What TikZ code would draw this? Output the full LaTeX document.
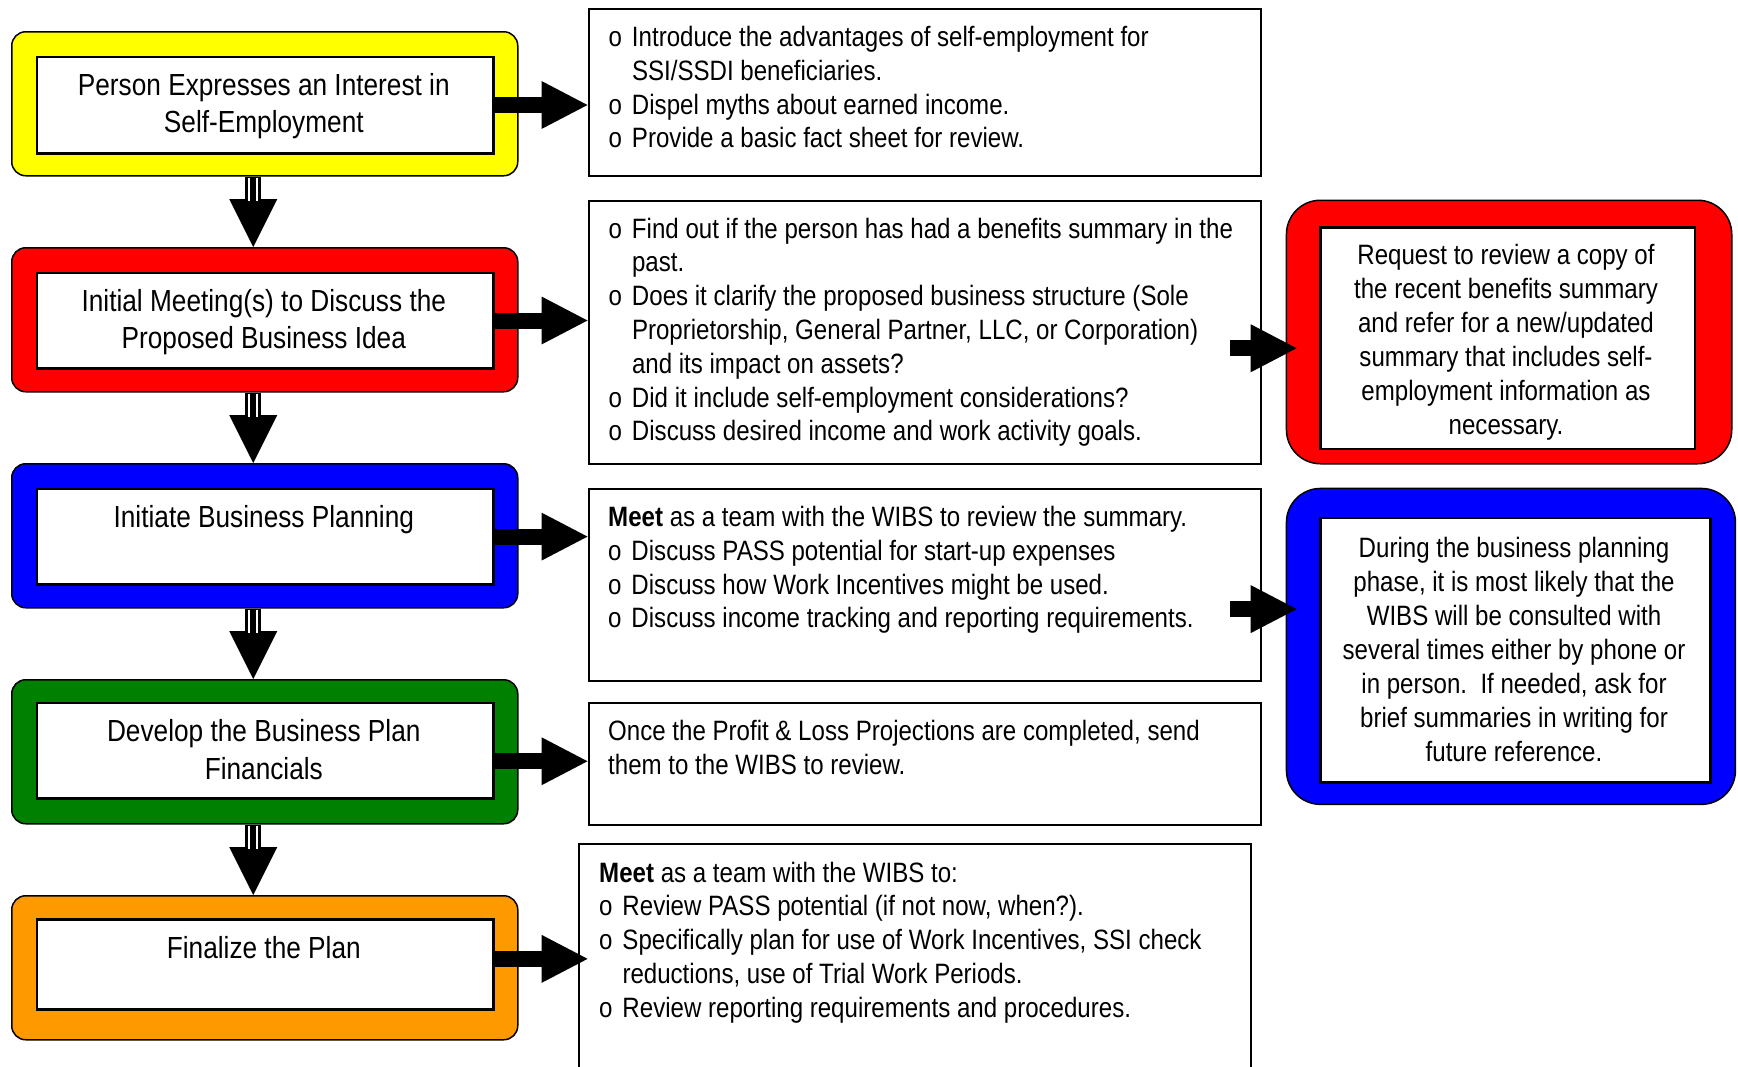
\documentclass[tikz,border=0pt]{standalone}
\usepackage{fontspec}
\setmainfont[FakeStretch=0.86]{Liberation Sans}
\usetikzlibrary{arrows.meta}
\definecolor{cyel}{HTML}{FFFF00}
\definecolor{cred}{HTML}{FF0000}
\definecolor{cblu}{HTML}{0000FF}
\definecolor{cgrn}{HTML}{008000}
\definecolor{corg}{HTML}{FF9900}
\newcommand\bul{\makebox[23.3pt][l]{o}}
\newcommand\ind{\hspace*{23.3pt}}
\tikzset{
 lout/.style={draw=black, line width=1.5pt, rounded corners=14pt, anchor=north west, minimum width=506pt, minimum height=144pt, inner sep=0pt},
 lin/.style={draw=black, fill=white, line width=2.5pt, anchor=north west, minimum width=456.5pt, inner sep=0pt},
 mbox/.style={draw=black, line width=2pt, anchor=north west, inner sep=0pt},
 rout/.style={draw=black, line width=1.5pt, rounded corners=34pt, anchor=north west, inner sep=0pt},
 rin/.style={draw=black, fill=white, line width=2.5pt, anchor=north west, inner sep=0pt},
 fat/.style={line width=16pt, -{Triangle[width=48pt,length=46pt,line width=0pt]}},
 downarr/.style={line width=16pt, -{Triangle[width=48pt,length=48pt,line width=0pt]}},
 stripe/.style={white, line width=2.4pt},
 ltxt/.style={inner sep=0pt, anchor=base, font=\fontsize{30.5}{37.6}\selectfont},
 mtxt/.style={inner sep=0pt, anchor=base west, font=\fontsize{28}{33.8}\selectfont},
 rtxt/.style={inner sep=0pt, anchor=base, font=\fontsize{28}{34}\selectfont},
}
\begin{document}
\begin{tikzpicture}[x=1pt,y=-1pt]
\useasboundingbox (0,0) rectangle (1738,1066);
% left column
\node[lout, fill=cyel] (O1) at (11,31) {};
\node[lout, fill=cred] (O2) at (11,247) {};
\node[lout, fill=cblu] (O3) at (11,463) {};
\node[lout, fill=cgrn] (O4) at (11,679) {};
\node[lout, fill=corg] (O5) at (11,895) {};
\node[lin, minimum height=96.5pt] (L1) at (35.5,55.5) {};
\node[lin, minimum height=95.5pt] (L2) at (35.5,271.5) {};
\node[lin, minimum height=95.3pt] (L3) at (35.5,487.7) {};
\node[lin, minimum height=95.4pt] (L4) at (35.5,701.6) {};
\node[lin, minimum height=90pt] (L5) at (35.5,918) {};
\node[ltxt] (T1) at (263.8,95) {\begin{tabular}[t]{@{}c@{}}Person Expresses an Interest in\\Self-Employment\end{tabular}};
\node[ltxt] (T2) at (263.8,311) {\begin{tabular}[t]{@{}c@{}}Initial Meeting(s) to Discuss the\\Proposed Business Idea\end{tabular}};
\node[ltxt] (T3) at (263.8,527) {Initiate Business Planning};
\node[ltxt] (T4) at (263.8,741.5) {\begin{tabular}[t]{@{}c@{}}Develop the Business Plan\\Financials\end{tabular}};
\node[ltxt] (T5) at (263.8,958) {Finalize the Plan};
% down arrows
\foreach \a/\b in {O1/O2,O2/O3,O3/O4,O4/O5}{
 \draw[downarr] ([xshift=-11.5pt]\a.south) -- ([xshift=-11.5pt]\b.north);
 \draw[stripe] ([shift={(-16,1)}]\a.south) -- ([shift={(-16,24)}]\a.south);
 \draw[stripe] ([shift={(-8,1)}]\a.south) -- ([shift={(-8,24)}]\a.south);
}
% middle column
\node[mbox, minimum width=672.5pt, minimum height=167.2pt] (M1) at (587.5,7.8) {};
\node[mbox, minimum width=672.5pt, minimum height=263.5pt] (M2) at (587.5,199.5) {};
\node[mbox, minimum width=672.5pt, minimum height=191.8pt] (M3) at (587.5,487.7) {};
\node[mbox, minimum width=672.5pt, minimum height=121.9pt] (M4) at (587.5,701.6) {};
\coordinate (M5) at (578.6,843.5);
\draw[line width=2pt] (578.6,1070) -- (M5) -- (1251.4,843.5) -- (1251.4,1070);
\coordinate (M5w) at (578.6,957.6);
\node[mtxt] (X1) at (608.5,46.5) {\begin{tabular}[t]{@{}l@{}}\bul Introduce the advantages of self-employment for\\\ind SSI/SSDI beneficiaries.\\\bul Dispel myths about earned income.\\\bul Provide a basic fact sheet for review.\end{tabular}};
\node[mtxt] (X2) at (608.5,238) {\begin{tabular}[t]{@{}l@{}}\bul Find out if the person has had a benefits summary in the\\\ind past.\\\bul Does it clarify the proposed business structure (Sole\\\ind Proprietorship, General Partner, LLC, or Corporation)\\\ind and its impact on assets?\\\bul Did it include self-employment considerations?\\\bul Discuss desired income and work activity goals.\end{tabular}};
\node[mtxt] (X3) at (608,526.5) {\begin{tabular}[t]{@{}l@{}}\textbf{Meet} as a team with the WIBS to review the summary.\\\bul Discuss PASS potential for start-up expenses\\\bul Discuss how Work Incentives might be used.\\\bul Discuss income tracking and reporting requirements.\end{tabular}};
\node[mtxt] (X4) at (608,740.5) {\begin{tabular}[t]{@{}l@{}}Once the Profit \& Loss Projections are completed, send\\them to the WIBS to review.\end{tabular}};
\node[mtxt] (X5) at (599,882) {\begin{tabular}[t]{@{}l@{}}\textbf{Meet} as a team with the WIBS to:\\\bul Review PASS potential (if not now, when?).\\\bul Specifically plan for use of Work Incentives, SSI check\\\ind reductions, use of Trial Work Periods.\\\bul Review reporting requirements and procedures.\end{tabular}};
% left to middle arrows
\draw[fat] (L1.east) -- (L1.east -| M1.west);
\draw[fat] (L2.east) -- (L2.east -| M2.west);
\draw[fat] (L3.east) -- (L3.east -| M3.west);
\coordinate (s4) at ([shift={(0,10.7)}]L4.east);
\draw[fat] (s4) -- (s4 -| M4.west);
\coordinate (s5) at ([shift={(0,-5.4)}]L5.east);
\draw[fat] (s5) -- ([xshift=9pt]s5 -| M5w);
% right column
\node[rout, fill=cred, minimum width=445.3pt, minimum height=263.5pt] (R1) at (1285.7,199.5) {};
\node[rin, minimum width=374.6pt, minimum height=221.8pt] (RI1) at (1319,226) {};
\node[rout, fill=cblu, minimum width=449pt, minimum height=315.9pt] (R2) at (1285.7,487.7) {};
\node[rin, minimum width=390pt, minimum height=264.9pt] (RI2) at (1319,516.5) {};
\node[rtxt] (Y1) at (1506,264) {\begin{tabular}[t]{@{}c@{}}Request to review a copy of\\the recent benefits summary\\and refer for a new/updated\\summary that includes self-\\employment information as\\necessary.\end{tabular}};
\node[rtxt] (Y2) at (1514,557) {\begin{tabular}[t]{@{}c@{}}During the business planning\\phase, it is most likely that the\\WIBS will be consulted with\\several times either by phone or\\in person.\ \ If needed, ask for\\brief summaries in writing for\\future reference.\end{tabular}};
% middle to right arrows
\coordinate (a2) at ([shift={(-32,16)}]M2.east);
\draw[fat] (a2) -- ([xshift=11pt]a2 -| R1.west);
\coordinate (a3) at ([shift={(-32,24.5)}]M3.east);
\draw[fat] (a3) -- ([xshift=11pt]a3 -| R2.west);
\end{tikzpicture}
\end{document}
